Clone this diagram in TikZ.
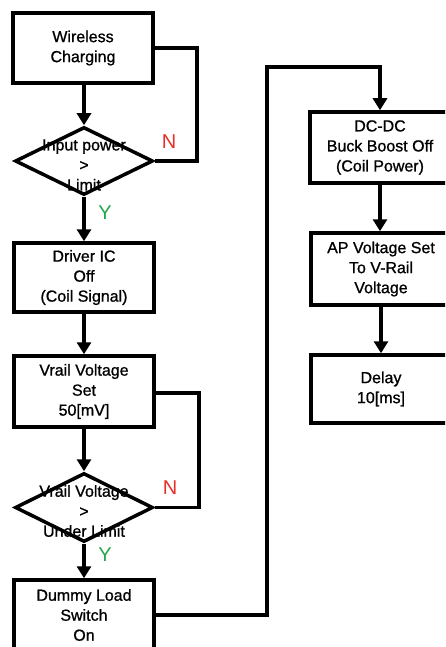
\documentclass[tikz,border=0pt]{standalone}
\usepackage{fontspec}
\setmainfont{Liberation Sans}
\newfontfamily\medfont{Liberation Sans}[FakeBold=0.9]
\usetikzlibrary{shapes.geometric,arrows.meta}
\definecolor{nred}{HTML}{E8302A}
\definecolor{ygreen}{HTML}{22A84A}
\begin{document}
\begin{tikzpicture}[x=1pt,y=-1pt,
  box/.style={draw,line width=3.5pt,minimum width=140pt,minimum height=70pt,align=center,inner sep=0pt,font=\medfont\fontsize{16}{20}\selectfont},
  dia/.style={draw,diamond,line width=3.5pt,minimum width=138pt,minimum height=68pt,inner sep=0pt},
  dtext/.style={align=center,inner sep=0pt,font=\medfont\fontsize{16}{20}\selectfont},
  arr/.style={line width=4pt,-{Triangle[width=14pt,length=12pt]}},
  ln/.style={line width=3.5pt},
  nlab/.style={text=nred,font=\fontsize{20}{20}\selectfont,inner sep=0pt},
  ylab/.style={text=ygreen,font=\fontsize{20}{20}\selectfont,inner sep=0pt}]
\useasboundingbox (0,0) rectangle (445,647);
\clip (0,0) rectangle (445,647);
\fill[white] (0,0) rectangle (445,647);
% left column
\node[box] (wc) at (83,48) {Wireless\\Charging};
\node[dia] (d1) at (84,161) {};
\node[dtext] (t1) at (84,165) {Input power\\>\\Limit};
\node[box,minimum height=69pt] (drv) at (84,277.5) {Driver IC\\Off\\(Coil Signal)};
\node[box,minimum height=71pt] (vset) at (84,391.5) {Vrail Voltage\\Set\\50[mV]};
\node[dia,minimum height=69pt] (d2) at (84,507.5) {};
\node[dtext] (t2) at (84,511) {Vrail Voltage\\>\\Under Limit};
\node[box] (dum) at (84,615) {Dummy Load\\Switch\\On};
% right column
\node[box,minimum height=71pt] (dc) at (380,147.5) {DC-DC\\Buck Boost Off\\(Coil Power)};
\node[box,minimum height=72pt] (ap) at (381,269) {AP Voltage Set\\To V-Rail\\Voltage};
\node[box,minimum height=68pt] (dl) at (381,389) {Delay\\10[ms]};
% labels
\node[nlab] (n1) at (169,142) {N};
\node[ylab] (y1) at (105,213) {Y};
\node[nlab] (n2) at (170,488) {N};
\node[ylab] (y2) at (105,555) {Y};
% coordinates
\coordinate (c1) at (197,48);
\coordinate (c2) at (199,393);
\coordinate (c3) at (267,67);
% connectors
\draw[arr] (wc.south -| d1.north) -- (d1.north);
\draw[ln] (d1.east) -| (c1) -- (c1 -| wc.east);
\draw[arr] (d1.south) -- (drv.north);
\draw[arr] (drv.south) -- (vset.north);
\draw[arr] (vset.south) -- (d2.north);
\draw[ln] (d2.east) -| (c2) -- (c2 -| vset.east);
\draw[arr] (d2.south) -- (dum.north);
\draw[arr] (dum.east) -| (c3) -| (dc.north);
\draw[arr] (dc.south) -- (dc.south |- ap.north);
\draw[arr] (ap.south) -- (dl.north);
\end{tikzpicture}
\end{document}
